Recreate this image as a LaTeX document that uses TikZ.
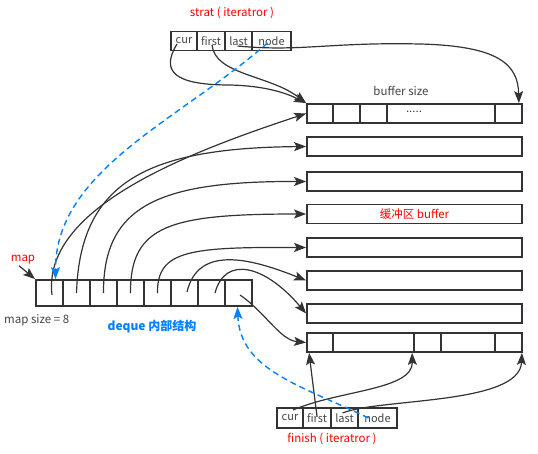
\documentclass[tikz,border=0pt]{standalone}
\usepackage{fontspec}
\setmainfont{Noto Sans CJK SC}
\usetikzlibrary{arrows.meta,calc}
\definecolor{ink}{HTML}{333333}
\definecolor{txt}{HTML}{444444}
\definecolor{blu}{HTML}{007FFF}
\definecolor{rd}{HTML}{FF0000}
\begin{document}
\begin{tikzpicture}[x=1pt,y=-1pt,
  buf/.style={draw=ink,line width=1.8pt,minimum width=215pt,minimum height=19pt,inner sep=0pt},
  cell/.style={draw=ink,line width=1.8pt,minimum width=27pt,minimum height=26pt,inner sep=0pt},
  it/.style={draw=ink,line width=1.6pt,minimum height=19pt,inner sep=0pt,font=\fontsize{11}{12}\selectfont,text=txt},
  con/.style={draw=ink,line width=1.2pt,-{Stealth[length=12pt,width=9pt,inset=2.5pt]}},
  ptr/.style={draw=blu,line width=1.4pt,dash pattern=on 6pt off 4pt,-{Stealth[length=12pt,width=9pt,inset=2.5pt]}},
  lbl/.style={font=\fontsize{11.5}{13}\selectfont,inner sep=0pt}
]
\useasboundingbox (0,0) rectangle (538,453);

% labels
\node[lbl,text=rd] (tlabel) at (232,13) {strat ( iteratror )};
\node[lbl,text=txt] (bsize) at (401,91) {buffer size};
\node[lbl,text=rd] (maplbl) at (23,260) {map};
\node[lbl,text=txt,anchor=west] (msize) at (4,320) {map size = 8};
\node[lbl,text=blu,font=\fontsize{12}{13}\selectfont\bfseries] (title) at (152,327) {deque 内部结构};
\node[lbl,text=rd] (flabel) at (332,439) {finish ( iteratror )};

% buffers
\node[buf] (b1) at (414.5,113.5) {};
\node[buf] (b2) at (414.5,146.5) {};
\node[buf] (b3) at (414.5,181.5) {};
\node[buf,text=rd,font=\fontsize{11.5}{13}\selectfont] (b4) at (414.5,214) {缓冲区 buffer};
\node[buf] (b5) at (414.5,247.5) {};
\node[buf] (b6) at (414.5,280.5) {};
\node[buf] (b7) at (414.5,313.5) {};
\node[buf] (b8) at (414.5,342.5) {};
\foreach \d in {27,54,81,189}
  \draw[ink,line width=1.8pt] ($(b1.north west)+(\d,0)$) -- ($(b1.south west)+(\d,0)$);
\foreach \d in {27,108,135,189}
  \draw[ink,line width=1.8pt] ($(b8.north west)+(\d,0)$) -- ($(b8.south west)+(\d,0)$);
\node[lbl,text=txt] (dots) at (414,112) {.....};

% map
\foreach \i in {0,...,7}
  \node[cell] (m\i) at ({49.5+27*\i},293) {};

% top iterator
\node[it,minimum width=26pt] (tc) at (184,41) {cur};
\node[it,minimum width=28pt] (tf) at (211,41) {first};
\node[it,minimum width=27pt] (tl) at (238.5,41) {last};
\node[it,minimum width=39pt] (tn) at (271.5,41) {node};

% bottom iterator
\node[it,minimum width=26pt,minimum height=20pt] (bc) at (290,418) {cur};
\node[it,minimum width=28pt,minimum height=20pt] (bf) at (317,418) {first};
\node[it,minimum width=27pt,minimum height=20pt] (bl) at (344.5,418) {last};
\node[it,minimum width=39pt,minimum height=20pt] (bn) at (377.5,418) {node};

% map -> buffers
\draw[con] ($(m0.center)+(2.5,2)$) .. controls (42,210) and (180,155) .. (b1.west);
\draw[con] (m1.center) .. controls (80,180) and (150,148) .. (b2.west);
\draw[con] (m2.center) .. controls (103,205) and (160,181) .. (b3.west);
\draw[con] (m3.center) .. controls (130,225) and (170,214) .. (b4.west);
\draw[con] (m4.center) .. controls (157,250) and (190,247) .. (b5.west);
\draw[con] ($(m5.center)+(2.5,-1)$) .. controls (198,245) and (250,258) .. (b6.west);
\draw[con] ($(m6.center)+(3.5,0)$) .. controls (225,255) and (265,265) .. (b7.west);
\draw[con] ($(m7.center)+(1.5,2)$) .. controls (265,312) and (280,340) .. (b8.west);

% map label arrow
\draw[con] ($(maplbl.south)+(-4,1)$) -- (m0.north west);

% top iterator pointers
\draw[con] ($(tc.center)+(-7,3)$) .. controls (160,72) and (175,85) .. (230,85) .. controls (270,86) and (290,95) .. (b1.north west);
\draw[con] ($(tf.center)+(1,4)$) .. controls (215,75) and (270,75) .. (b1.north west);
\draw[con] ($(tl.center)+(-1,5)$) .. controls (300,52) and (330,42) .. (420,44) .. controls (500,46) and (518,65) .. ($(b1.north east)+(-4,0)$);
\draw[ptr] ($(tn.center)+(-4,2)$) .. controls (180,120) and (55,170) .. ($(m0.north)+(6,0)$);

% bottom iterator pointers
\draw[con] ($(bc.center)+(3,-8)$) .. controls (340,390) and (413,390) .. ($(b8.south west)+(106,0)$);
\draw[con] ($(bf.center)+(0,-2)$) .. controls (313,385) .. ($(b8.south west)+(3,0)$);
\draw[con] ($(bl.center)+(-2,-5)$) .. controls (380,398) and (520,405) .. ($(b8.south east)+(-1,0)$);
\draw[ptr] ($(bn.center)+(-9,0)$) .. controls (300,385) and (240,370) .. ($(m7.south)+(-1,0)$);
\end{tikzpicture}
\end{document}
